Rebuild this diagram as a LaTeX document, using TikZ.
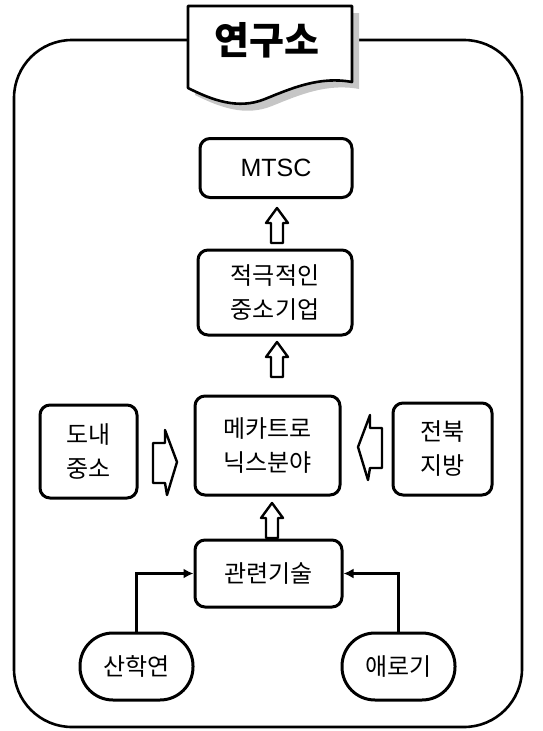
\documentclass[tikz,border=0pt]{standalone}
\usepackage{fontspec}
\setmainfont{Noto Sans CJK KR}
\newfontfamily\latinsans{Liberation Sans}
\usetikzlibrary{arrows.meta}
\begin{document}
\begin{tikzpicture}[x=1pt,y=-1pt,
  box/.style={draw, line width=3pt, rounded corners=10pt, fill=white,
    font=\fontsize{24}{34}\selectfont, align=center, inner sep=0pt},
  pill/.style={box, rounded corners=33pt},
  conn/.style={line width=2.8pt, -{Latex[length=10pt,width=10pt]}},
  blockarrow/.style={draw, line width=2.4pt, fill=white, line join=round},
  frame/.style={line width=2.6pt, rounded corners=58pt}
]
\useasboundingbox (0,0) rectangle (543,731);

% outer frame
\draw[frame] (190,40) -- (14,40) -- (14,727) -- (522,727) -- (522,40) -- (352,40);

% title document shape with shadow
\fill[gray!45, shift={(7,7)}] (188,6) -- (352,6) -- (352,82)
  .. controls (320,76) and (292,88) .. (265,99)
  .. controls (238,110) and (212,100) .. (188,88) -- cycle;
\draw[line width=2.6pt, fill=white, line join=round] (188,6) -- (352,6) -- (352,82)
  .. controls (320,76) and (292,88) .. (265,99)
  .. controls (238,110) and (212,100) .. (188,88) -- cycle;
\node[font=\fontsize{38}{42}\selectfont\bfseries] (title) at (267,40) {연구소};

% nodes
\node[box, minimum width=152pt, minimum height=59pt, font=\latinsans\fontsize{25}{30}\selectfont] (mtsc) at (276,168) {MTSC};
\node[box, minimum width=154pt, minimum height=85pt] (active) at (275,292.5) {적극적인\\중소기업};
\node[box, minimum width=145pt, minimum height=99pt] (mecha) at (267.5,445.5) {메카트로\\닉스분야};
\node[box, minimum width=97pt, minimum height=93pt] (donae) at (88.5,451.5) {도내\\중소};
\node[box, minimum width=99pt, minimum height=92pt] (jeonbuk) at (442.5,449) {전북\\지방};
\node[box, minimum width=147pt, minimum height=67pt] (tech) at (268.5,573.5) {관련기술};
\node[pill, minimum width=113pt, minimum height=67pt] (sanhak) at (136.5,666.5) {산학연};
\node[pill, minimum width=113pt, minimum height=67pt] (aero) at (398.5,666.5) {애로기};

% connectors
\draw[conn] (sanhak.north) |- (tech.west);
\draw[conn] (aero.north) |- (tech.east);

% hollow block arrows (up)
\foreach \tx/\ty in {277/208, 277/342, 272/503}{
  \draw[blockarrow] (\tx,\ty) -- (\tx+11,\ty+15) -- (\tx+6,\ty+15) -- (\tx+6,\ty+35)
    -- (\tx-6,\ty+35) -- (\tx-6,\ty+15) -- (\tx-11,\ty+15) -- cycle;
}
% side block arrows
\draw[blockarrow] (153,443) -- (165,443) -- (165,430) -- (177,462) -- (167,495)
  -- (165,483) -- (153,483) -- cycle;
\draw[blockarrow] (382,428) -- (370,428) -- (370,415) -- (358,447) -- (368,480)
  -- (370,468) -- (382,468) -- cycle;
\end{tikzpicture}
\end{document}
